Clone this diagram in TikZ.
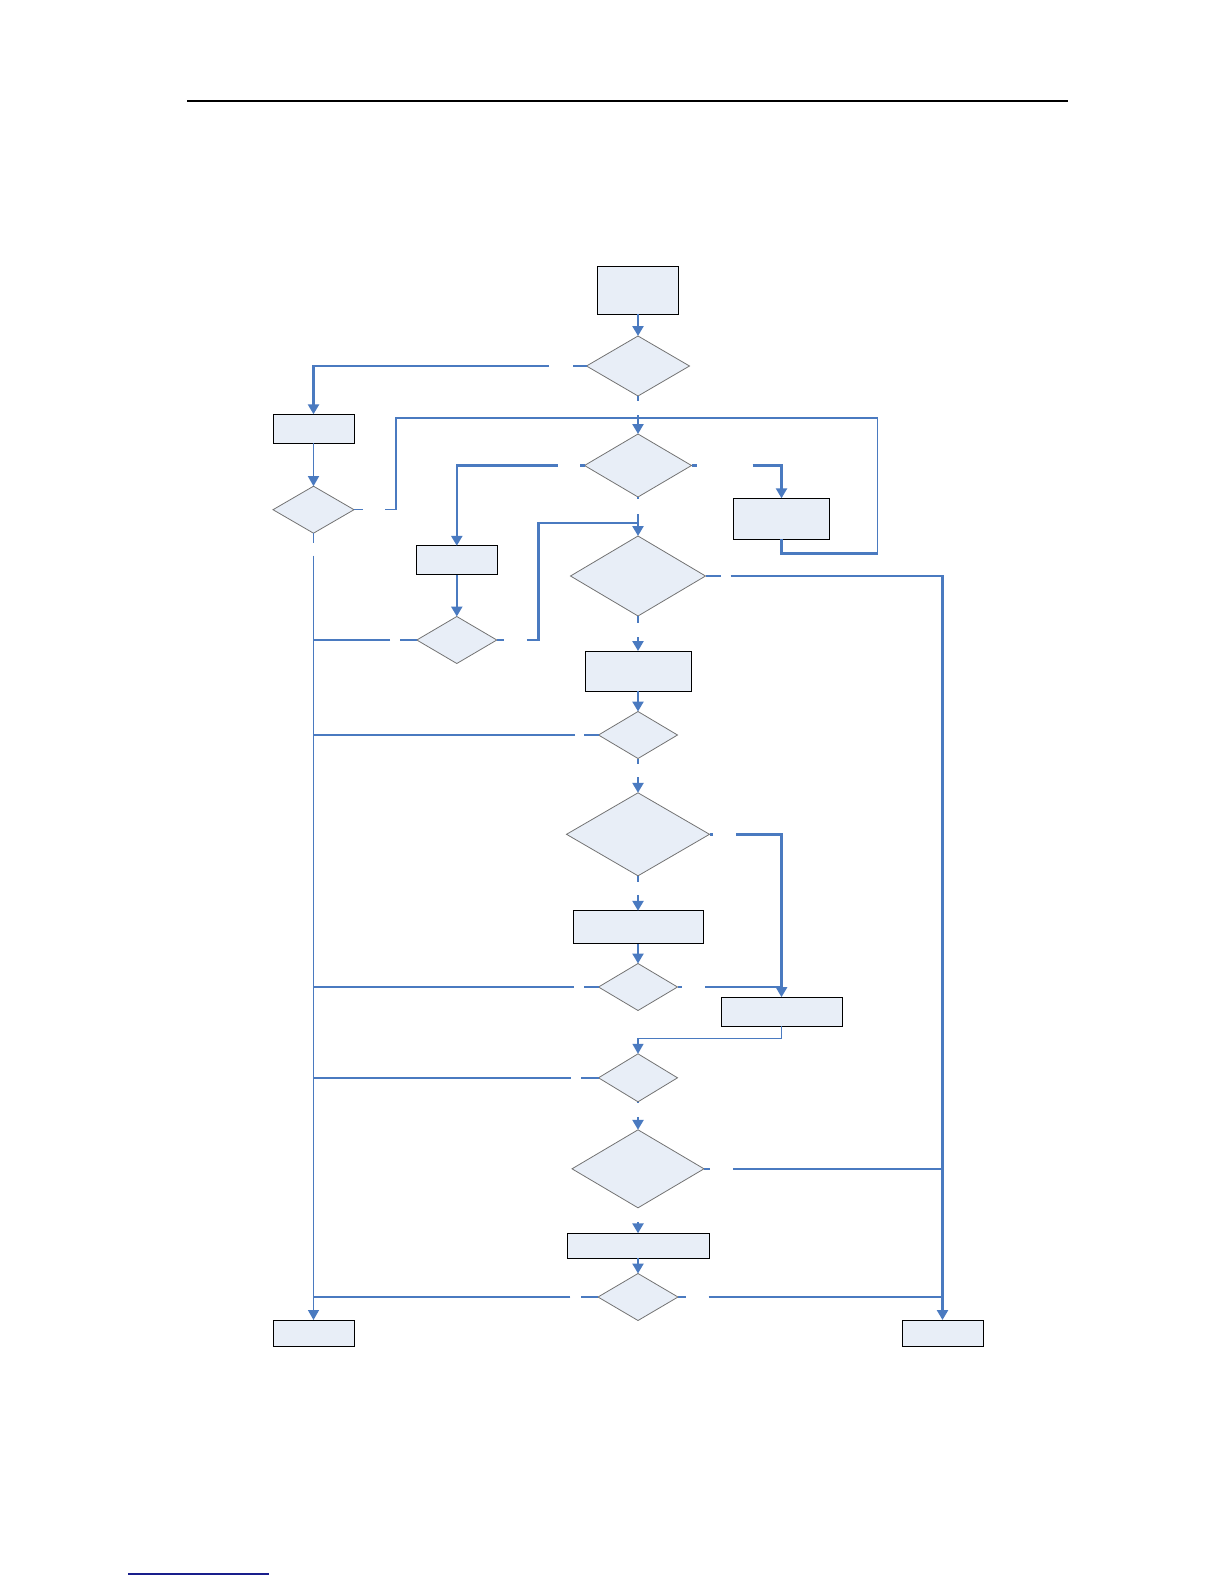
\documentclass[tikz,border=0pt]{standalone}
\usetikzlibrary{shapes.geometric, arrows.meta}
\definecolor{flowblue}{RGB}{74,122,192}
\definecolor{boxfill}{RGB}{232,238,247}
\definecolor{footblue}{RGB}{25,30,140}
\tikzset{
    box/.style = {draw = black, fill = boxfill, line width = 0.5pt, inner sep = 0pt, outer sep = 0pt},
    decision/.style = {diamond, draw = black!55, fill = boxfill, line width = 0.4pt, inner sep = 0pt, outer sep = 0pt},
    link/.style = {draw = flowblue, line width = 1.2pt},
    linkthin/.style = {draw = flowblue, line width = 0.7pt},
    >={Triangle[length = 5pt, width = 5.5pt]}
}
\begin{document}
\begin{tikzpicture}[x = 0.5pt, y = -0.5pt]
        \useasboundingbox (0, 0) rectangle (1224, 1584);
        \draw[line width = 0.6pt] (187, 101) -- (1068, 101);
        \draw[line width = 0.6pt, footblue] (128, 1574) -- (269, 1574);
        \node[box, minimum width = 40.5pt, minimum height = 24pt] (start) at (638, 290) {};
        \node[decision, minimum width = 51.5pt, minimum height = 30pt] (D1) at (638, 366) {};
        \node[decision, minimum width = 53.5pt, minimum height = 31.5pt] (D2) at (638, 465.5) {};
        \node[decision, minimum width = 67.5pt, minimum height = 40pt] (D3) at (638, 576) {};
        \node[box, minimum width = 53pt, minimum height = 20pt] (C1) at (638, 671) {};
        \node[decision, minimum width = 39.5pt, minimum height = 23.5pt] (D4) at (638, 735) {};
        \node[decision, minimum width = 71.5pt, minimum height = 41.5pt] (D5) at (638, 834.3) {};
        \node[box, minimum width = 65pt, minimum height = 16.5pt] (C2) at (638, 927.3) {};
        \node[decision, minimum width = 39.5pt, minimum height = 23.5pt] (D6) at (638, 987) {};
        \node[decision, minimum width = 39.5pt, minimum height = 24pt] (D7) at (638, 1077.8) {};
        \node[decision, minimum width = 66pt, minimum height = 39pt] (D8) at (638, 1168.8) {};
        \node[box, minimum width = 71pt, minimum height = 12.5pt] (C3) at (638, 1245.8) {};
        \node[decision, minimum width = 40pt, minimum height = 23.5pt] (D9) at (638, 1297) {};
        \node[box, minimum width = 40.5pt, minimum height = 14.5pt] (L1) at (313.5, 428.8) {};
        \node[decision, minimum width = 40.5pt, minimum height = 23.5pt] (DL1) at (313.5, 509.7) {};
        \node[box, minimum width = 40.5pt, minimum height = 14.5pt] (L2) at (456.8, 560.3) {};
        \node[decision, minimum width = 40pt, minimum height = 23.5pt] (DL2) at (456.8, 640) {};
        \node[box, minimum width = 48pt, minimum height = 20.5pt] (R1) at (781.5, 518.8) {};
        \node[box, minimum width = 60.5pt, minimum height = 14.5pt] (R2) at (781.5, 1011.7) {};
        \node[box, minimum width = 40.5pt, minimum height = 13pt] (LE) at (313.5, 1333) {};
        \node[box, minimum width = 40.5pt, minimum height = 13pt] (RE) at (942.5, 1333) {};
        \coordinate (j1) at (638, 418);
        \coordinate (j2) at (638, 523);
        \foreach \a/\b in {start/D1, L2/DL2, C1/D4, C2/D6, C3/D9}{
            \draw[link, ->] (\a) -- (\b);
        }
        \draw[linkthin, ->] (L1) -- (DL1);
        \foreach \d/\s in {D1/5, D2/2, D3/7, D4/5, D5/5.7, D7/1.6}{
            \draw[link] (\d.south) -- ++(0, \s);
        }
        \foreach \a/\g/\b in {D1/19/D2, D2/17/D3, D3/21/C1, D4/18.5/D5, D5/19/C2, D7/15/D8, D8/14/C3}{
            \draw[link, ->] (\a.south) ++(0, \g) -- (\b.north);
        }
        \foreach \d/\s/\g in {DL2/16.7/26.7, D4/14.3/23.3, D6/15/25, D7/17.3/27.6}{
            \draw[link] (\d.west) -- ++(-\s, 0);
            \draw[link] (\d.west) ++(-\g, 0) -- (DL1 |- \d);
        }
        \draw[linkthin] (D9.west) -- ++(-17.3, 0);
        \draw[linkthin] (D9.west) ++(-27.6, 0) -- (DL1 |- D9);
        \draw[linkthin] (DL1.south) -- ++(0, 9.4);
        \draw[linkthin, ->] (DL1.south) ++(0, 22.4) -- (LE.north);
        \draw[link] (D1.west) -- ++(-13.4, 0);
        \draw[link, ->] (D1.west) ++(-37.4, 0) -| (L1.north);
        \draw[linkthin] (DL1.east) -- ++(8.7, 0);
        \draw[linkthin] (DL1.east) ++(31, 0) -- ++(11, 0) |- (j1);
        \draw[link] (D2.west) -- ++(-4.3, 0);
        \draw[link, ->] (D2.west) ++(-26.6, 0) -| (L2.north);
        \draw[link] (D2.east) -- ++(5, 0);
        \draw[link, ->] (D2.east) ++(61, 0) -| (R1.north);
        \draw[link] (R1.south) -- ++(0, 14) -- ++(96, 0);
        \draw[linkthin] (R1.south) ++(96, 14) |- (j1);
        \draw[link] (DL2.east) -- ++(7.3, 0);
        \draw[link] (DL2.east) ++(30, 0) -- ++(11.6, 0) |- (j2);
        \draw[link] (D3.east) -- ++(15, 0);
        \draw[link, ->] (D3.east) ++(25, 0) -- (RE |- D3) -- (RE.north);
        \draw[link] (D5.east) -- ++(3.4, 0);
        \draw[link, ->] (D5.east) ++(26.7, 0) -| (R2.north);
        \draw[link] (D6.east) -- ++(4.4, 0);
        \draw[link] (D6.east) ++(27.7, 0) -- (R2 |- D6);
        \draw[linkthin, ->] (R2.south) -- ++(0, 12) -| (D7.north);
        \draw[link] (D8.east) -- ++(6, 0);
        \draw[link] (D8.east) ++(29.3, 0) -- (RE |- D8);
        \draw[linkthin] (D9.east) -- ++(8.4, 0);
        \draw[linkthin] (D9.east) ++(30.7, 0) -- (RE |- D9);
    \end{tikzpicture}
\end{document}
